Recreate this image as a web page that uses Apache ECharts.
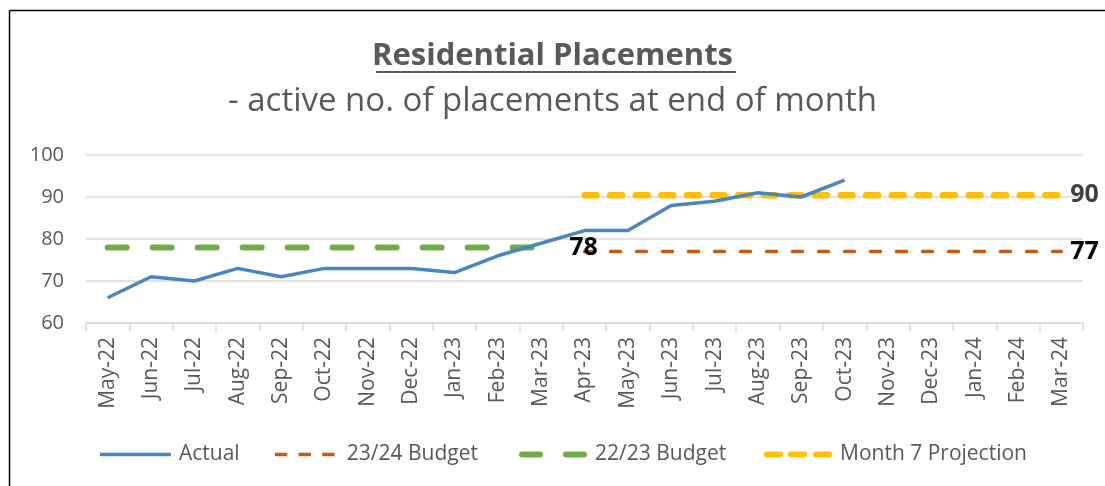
<!DOCTYPE html>
<html>
<head>
<meta charset="utf-8">
<script src="https://cdn.jsdelivr.net/npm/echarts@6/dist/echarts.min.js"></script>
<style>
html,body{margin:0;padding:0;background:#fff;}
#chart{width:1105px;height:486px;}
</style>
</head>
<body>
<div id="chart"></div>
<script>
const categories = ['May-22','Jun-22','Jul-22','Aug-22','Sep-22','Oct-22','Nov-22','Dec-22','Jan-23','Feb-23','Mar-23','Apr-23','May-23','Jun-23','Jul-23','Aug-23','Sep-23','Oct-23','Nov-23','Dec-23','Jan-24','Feb-24','Mar-24'];
const actual = [66,71,70,73,71,73,73,73,72,76,79,82,82,88,89,91,90,94];
const budget2324 = [null,null,null,null,null,null,null,null,null,null,null,77,77,77,77,77,77,77,77,77,77,77,77];
const budget2223 = [78,78,78,78,78,78,78,78,78,78,78];
const projection = [null,null,null,null,null,null,null,null,null,null,null,90.4,90.4,90.4,90.4,90.4,90.4,90.4,90.4,90.4,90.4,90.4,90.4];
const yTicks = {min:60, max:100, interval:10};
const seriesNames = ['Actual','23/24 Budget','22/23 Budget','Month 7 Projection'];
const titleText = 'Residential Placements';
const subtitleText = '- active no. of placements at end of month';

const FONT = 'Open Sans';
const roundDash = (x, w, h) => { const r = h/2; return `M${x+r},0h${w-2*r}a${r},${r} 0 0 1 0,${h}h${-(w-2*r)}a${r},${r} 0 0 1 0,${-h}z`; };

const legendDefs = [
  {name:seriesNames[0], left:100, w:71, h:3.5, icon:'rect'},
  {name:seriesNames[1], left:275, w:68, h:3.5, icon:'path://M0,0h14v4h-14z M27,0h14v4h-14z M54,0h14v4h-14z'},
  {name:seriesNames[2], left:519, w:68, h:6, icon:'path://' + roundDash(0,24,6) + ' ' + roundDash(44,24,6)},
  {name:seriesNames[3], left:764, w:68, h:6.5, icon:'path://' + roundDash(0,19,6) + ' ' + roundDash(24,19,6) + ' ' + roundDash(49,19,6)}
];

function endLabel(distance, color){
  return {show:true, distance:distance, formatter:(p)=>String(Math.round(p.value)),
    fontFamily:FONT, fontSize:25, fontWeight:'bold', color:color};
}

const chart = echarts.init(document.getElementById('chart'));
chart.setOption({
  animation:false,
  backgroundColor:'#ffffff',
  textStyle:{fontFamily:FONT},
  title:[
    {text:titleText, left:'center', top:41, padding:0, textStyle:{fontFamily:FONT, fontWeight:'bold', fontSize:31, color:'#595959'}},
    {text:subtitleText, left:'center', top:85, padding:0, textStyle:{fontFamily:FONT, fontWeight:'normal', fontSize:33, color:'#595959'}}
  ],
  grid:{left:86, top:155, width:997, height:168, containLabel:false},
  legend: legendDefs.map(d => ({
    left:d.left, top:444, padding:0, itemWidth:d.w, itemHeight:d.h,
    icon:d.icon, itemStyle:{borderWidth:0},
    textStyle:{fontFamily:FONT, fontSize:21, color:'#595959', padding:[0,0,0,3]},
    data:[d.name]
  })),
  xAxis:{
    type:'category', data:categories, boundaryGap:true,
    axisLine:{lineStyle:{color:'#d9d9d9', width:1.5}},
    axisTick:{show:true, interval:0, length:8, lineStyle:{color:'#d9d9d9', width:1.5}},
    axisLabel:{interval:0, rotate:90, margin:14, fontFamily:FONT, fontSize:21, color:'#595959'}
  },
  yAxis:{
    type:'value', min:yTicks.min, max:yTicks.max, interval:yTicks.interval,
    axisLine:{show:false}, axisTick:{show:false},
    splitLine:{lineStyle:{color:'#d9d9d9', width:1.5}},
    axisLabel:{fontFamily:FONT, fontSize:20, color:'#595959', margin:22}
  },
  series:[
    {name:seriesNames[0], type:'line', data:actual, symbol:'none',
     lineStyle:{color:'#4a85c0', width:3.5}, itemStyle:{color:'#4a85c0'}, z:5},
    {name:seriesNames[1], type:'line', data:budget2324, symbol:'none',
     endLabel:endLabel(9,'#000000'),
     lineStyle:{color:'#c55a11', width:3.5, type:[10,16], cap:'round'}, itemStyle:{color:'#c55a11'}, z:3},
    {name:seriesNames[2], type:'line', data:budget2223, symbol:'none',
     endLabel:endLabel(28,'#000000'),
     lineStyle:{color:'#70ad47', width:6, type:[19,26], cap:'round'}, itemStyle:{color:'#70ad47'}, z:4},
    {name:seriesNames[3], type:'line', data:projection, symbol:'none',
     endLabel:endLabel(9,'#404040'),
     lineStyle:{color:'#ffc000', width:6.5, type:[12,13.6], cap:'round'}, itemStyle:{color:'#ffc000'}, z:4}
  ],
  graphic:[
    {type:'line', shape:{x1:376, y1:72, x2:736, y2:72}, style:{stroke:'#595959', lineWidth:2}},
    {type:'line', shape:{x1:9.5, y1:10.5, x2:1105, y2:10.5}, style:{stroke:'#000000', lineWidth:1.5}},
    {type:'line', shape:{x1:9.5, y1:10.5, x2:9.5, y2:486}, style:{stroke:'#000000', lineWidth:1.5}}
  ]
});
</script>
</body>
</html>
